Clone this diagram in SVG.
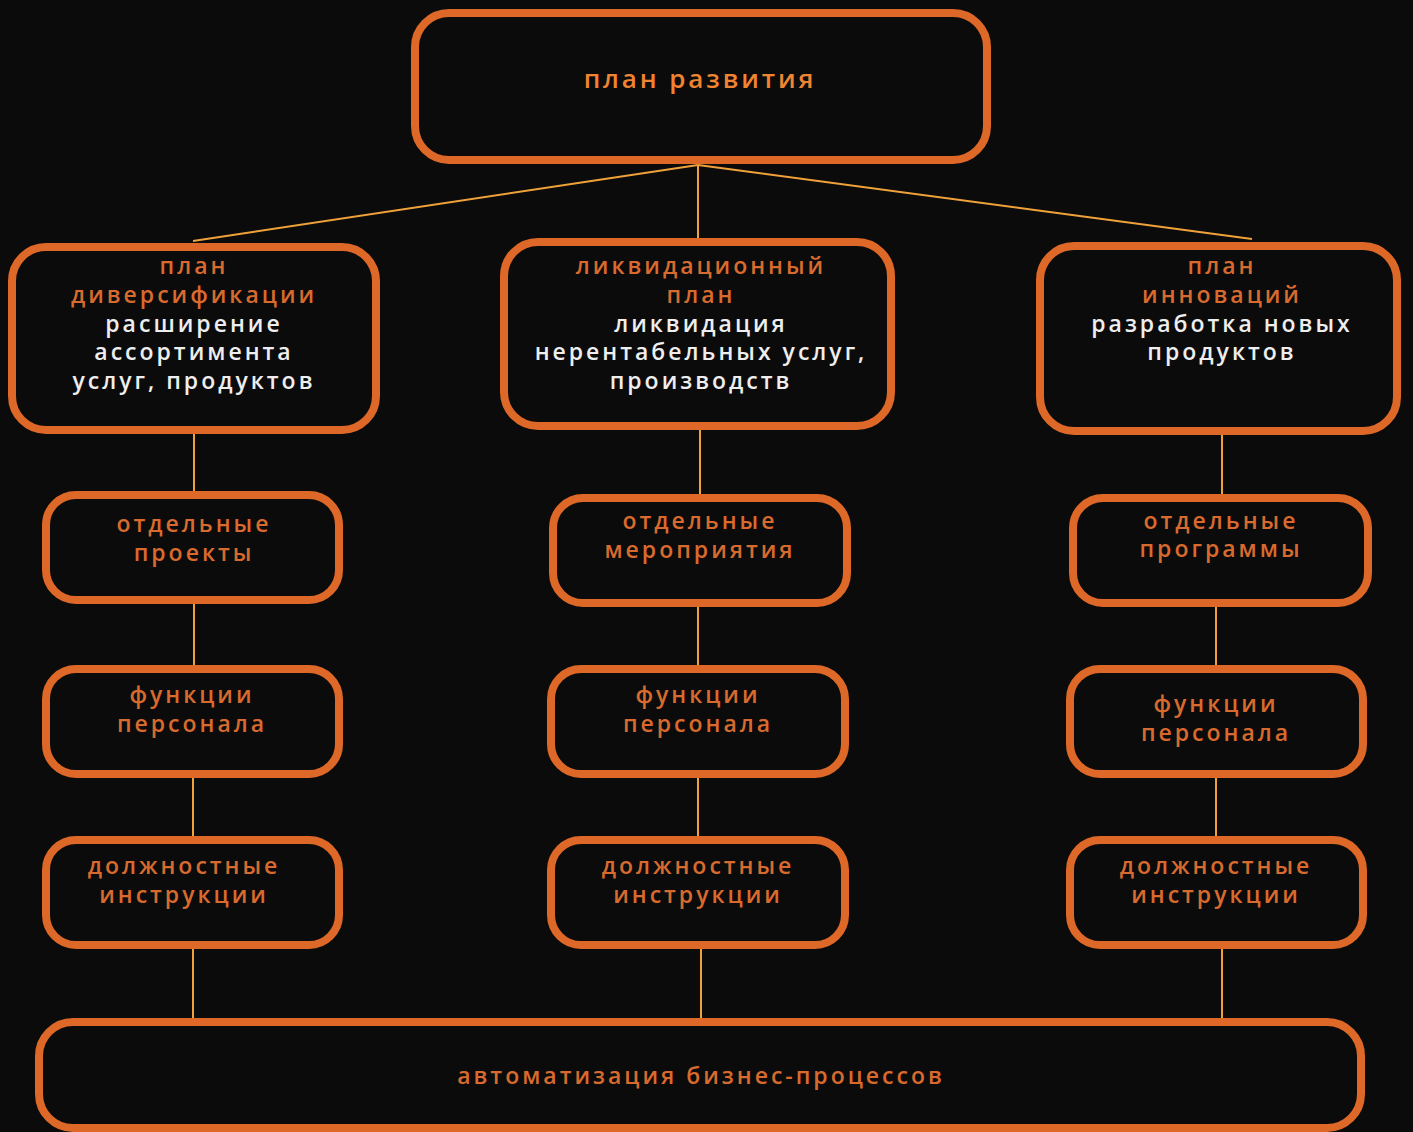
<svg xmlns="http://www.w3.org/2000/svg" width="1413" height="1132" viewBox="0 0 1413 1132">
<style>
.box{fill:#0b0b0b;stroke:#de6828;stroke-width:8}
.t{font-family:"Open Sans","Liberation Sans",sans-serif;font-size:23px;font-weight:600;letter-spacing:3px;text-anchor:middle;fill:#d96a2e}
.w{fill:#eeeeee}
.top{font-size:26px;letter-spacing:2.9px;fill:#f08430}
.c{stroke:#f0a23a;stroke-width:2;fill:none}
</style>
<rect width="1413" height="1132" fill="#0b0b0b"/>
<g id="connectors">
<line class="c" x1="698" y1="165" x2="193" y2="241"/>
<line class="c" x1="698" y1="165" x2="698" y2="240"/>
<line class="c" x1="698" y1="165" x2="1252" y2="239"/>
<line class="c" x1="194" y1="434" x2="194" y2="491"/>
<line class="c" x1="194" y1="604" x2="194" y2="665"/>
<line class="c" x1="193" y1="778" x2="193" y2="836"/>
<line class="c" x1="193" y1="949" x2="193" y2="1019"/>
<line class="c" x1="700" y1="430" x2="700" y2="494"/>
<line class="c" x1="698" y1="607" x2="698" y2="665"/>
<line class="c" x1="698" y1="778" x2="698" y2="836"/>
<line class="c" x1="701" y1="949" x2="701" y2="1019"/>
<line class="c" x1="1222" y1="435" x2="1222" y2="494"/>
<line class="c" x1="1216" y1="602" x2="1216" y2="665"/>
<line class="c" x1="1216" y1="778" x2="1216" y2="836"/>
<line class="c" x1="1222" y1="949" x2="1222" y2="1019"/>
</g>
<g id="n-top">
<rect class="box" x="415" y="13" width="572" height="147" rx="34"/>
<text class="t top" x="700" y="88">план развития</text>
</g>
<g id="n-div">
<rect class="box" x="12" y="247" width="364" height="183" rx="34"/>
<text class="t" x="194" y="274">план</text>
<text class="t" x="194" y="303">диверсификации</text>
<text class="t w" x="194" y="332">расширение</text>
<text class="t w" x="194" y="360">ассортимента</text>
<text class="t w" x="194" y="389">услуг, продуктов</text>
</g>
<g id="n-liq">
<rect class="box" x="504" y="242" width="387" height="184" rx="34"/>
<text class="t" x="701" y="274">ликвидационный</text>
<text class="t" x="701" y="303">план</text>
<text class="t w" x="701" y="332">ликвидация</text>
<text class="t w" x="701" y="360">нерентабельных услуг,</text>
<text class="t w" x="701" y="389">производств</text>
</g>
<g id="n-inn">
<rect class="box" x="1040" y="246" width="357" height="185" rx="34"/>
<text class="t" x="1222" y="274">план</text>
<text class="t" x="1222" y="303">инноваций</text>
<text class="t w" x="1222" y="332">разработка новых</text>
<text class="t w" x="1222" y="360">продуктов</text>
</g>
<g id="n-proj">
<rect class="box" x="46" y="495" width="293" height="105" rx="30"/>
<text class="t" x="194" y="532">отдельные</text>
<text class="t" x="194" y="561">проекты</text>
</g>
<g id="n-mer">
<rect class="box" x="553" y="498" width="294" height="105" rx="30"/>
<text class="t" x="700" y="529">отдельные</text>
<text class="t" x="700" y="558">мероприятия</text>
</g>
<g id="n-prog">
<rect class="box" x="1073" y="498" width="295" height="105" rx="30"/>
<text class="t" x="1221" y="529">отдельные</text>
<text class="t" x="1221" y="557">программы</text>
</g>
<g id="n-f1">
<rect class="box" x="46" y="669" width="293" height="105" rx="30"/>
<text class="t" x="192" y="703">функции</text>
<text class="t" x="192" y="732">персонала</text>
</g>
<g id="n-f2">
<rect class="box" x="551" y="669" width="294" height="105" rx="30"/>
<text class="t" x="698" y="703">функции</text>
<text class="t" x="698" y="732">персонала</text>
</g>
<g id="n-f3">
<rect class="box" x="1070" y="669" width="293" height="105" rx="30"/>
<text class="t" x="1216" y="712">функции</text>
<text class="t" x="1216" y="741">персонала</text>
</g>
<g id="n-d1">
<rect class="box" x="46" y="840" width="293" height="105" rx="30"/>
<text class="t" x="184" y="874">должностные</text>
<text class="t" x="184" y="903">инструкции</text>
</g>
<g id="n-d2">
<rect class="box" x="551" y="840" width="294" height="105" rx="30"/>
<text class="t" x="698" y="874">должностные</text>
<text class="t" x="698" y="903">инструкции</text>
</g>
<g id="n-d3">
<rect class="box" x="1070" y="840" width="293" height="105" rx="30"/>
<text class="t" x="1216" y="874">должностные</text>
<text class="t" x="1216" y="903">инструкции</text>
</g>
<g id="n-auto">
<rect class="box" x="39" y="1022" width="1322" height="106" rx="34"/>
<text class="t" x="701" y="1084">автоматизация бизнес-процессов</text>
</g>
</svg>
